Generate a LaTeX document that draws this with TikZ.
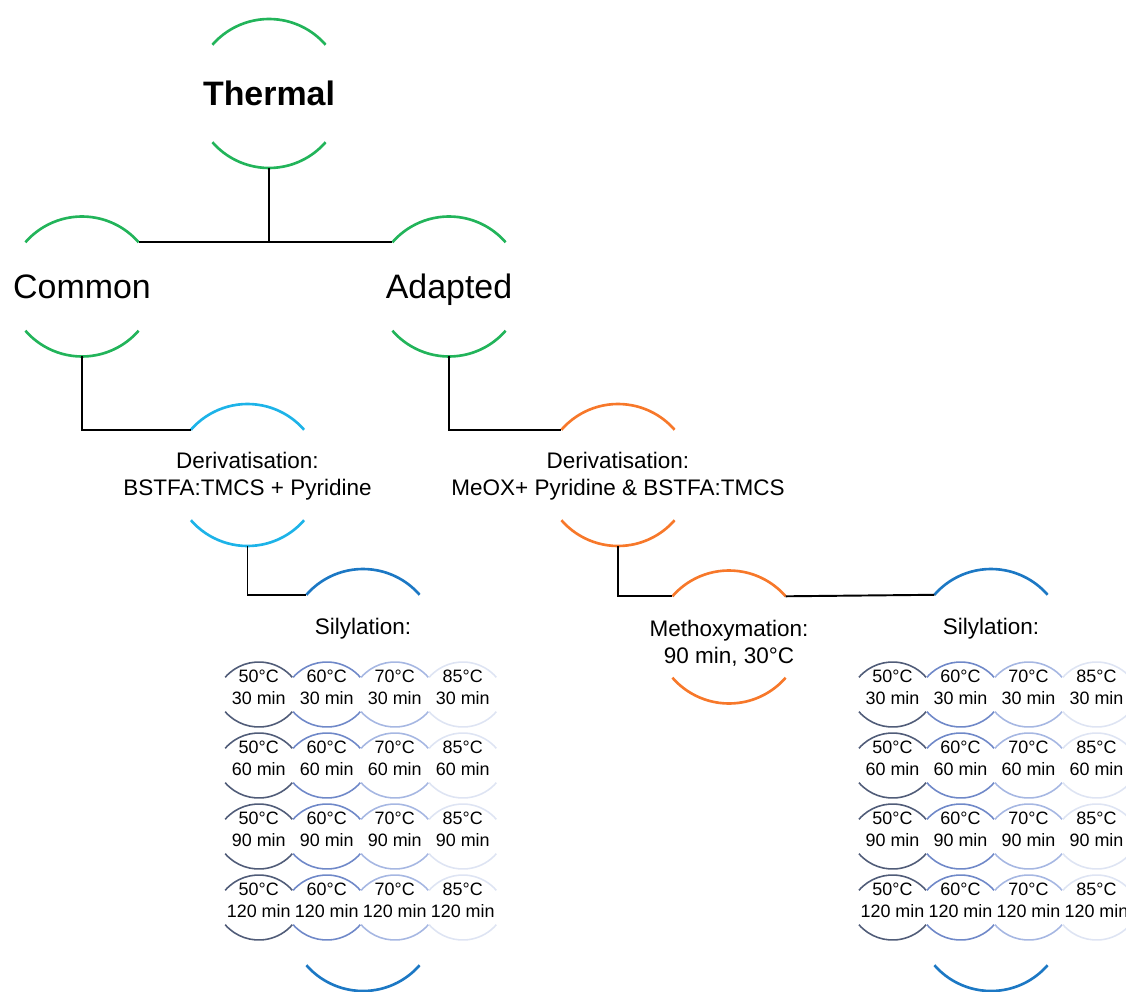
\documentclass[tikz,border=0pt]{standalone}
\usepackage{fontspec}
\setmainfont{Liberation Sans}
\usetikzlibrary{matrix,positioning}
\definecolor{leafgreen}{HTML}{22B45A}
\definecolor{skyblue}{HTML}{1DB3E8}
\definecolor{deriorange}{HTML}{F7782A}
\definecolor{silblue}{HTML}{1C78C4}
\definecolor{gridA}{HTML}{505C78}
\definecolor{gridB}{HTML}{6F88C8}
\definecolor{gridC}{HTML}{A6B7E2}
\definecolor{gridD}{HTML}{DEE4F3}
\tikzset{ring/.style={line width=1.5pt},
         thinring/.style={line width=0.9pt},
         link/.style={line width=1.1pt,black},
         topic/.style={font=\fontsize{19.3}{23}\selectfont,inner sep=0pt,
                       text height=13.8pt,text depth=0pt},
         stage/.style={font=\fontsize{12.8}{15.3}\selectfont,align=center,inner sep=0pt},
         cell/.style={font=\fontsize{10.2}{12.5}\selectfont,inner sep=0pt,
                      minimum width=1.36cm,minimum height=1.42cm,anchor=center}}
% arcs above and below a node: name, colour, radius, up, down
\newcommand\ringarcs[6][ring]{%
  \draw[#1,draw=#3] (#2.center) ++(0,#5) ++(0,-#4) ++(139:#4) coordinate (#2-tl)
    arc[start angle=139,end angle=41,radius=#4] coordinate (#2-tr);
  \draw[#1,draw=#3] (#2.center) ++(0,-#6) ++(0,#4) ++(221:#4) coordinate (#2-bl)
    arc[start angle=221,end angle=319,radius=#4] coordinate (#2-br);
  \coordinate (#2-top) at ([yshift=#5]#2.center);
  \coordinate (#2-bot) at ([yshift=-#6]#2.center);}
\newcommand\tc[2]{\begin{tabular}{@{}c@{}}#1°C\\#2 min\end{tabular}}

\begin{document}
\begin{tikzpicture}
  \useasboundingbox (0,0) rectangle (22.52,-19.84);
  \node[topic,font=\fontsize{19.3}{23}\selectfont\bfseries] (thermal) at (5.38,-1.86) {Thermal};
  \node[topic] (common) at (1.64,-5.73) {Common};
  \node[topic] (adapted) at (8.98,-5.73) {Adapted};
  \node[stage] (deriv1) at (4.95,-9.53) {Derivatisation:\\BSTFA:TMCS + Pyridine};
  \node[stage] (deriv2) at (12.36,-9.53) {Derivatisation:\\MeOX+ Pyridine \& BSTFA:TMCS};
  \node[stage] (methox) at (14.58,-12.86) {Methoxymation:\\90 min, 30°C};
  \node[stage] (sil1) at (7.26,-12.58) {Silylation:};
  \node[stage] (sil2) at (19.82,-12.58) {Silylation:};

  \matrix (gl) [matrix of nodes, nodes={cell}, row sep=0pt, column sep=0pt] at (7.215,-15.92)
    { \tc{50}{30}  & \tc{60}{30}  & \tc{70}{30}  & \tc{85}{30}  \\
      \tc{50}{60}  & \tc{60}{60}  & \tc{70}{60}  & \tc{85}{60}  \\
      \tc{50}{90}  & \tc{60}{90}  & \tc{70}{90}  & \tc{85}{90}  \\
      \tc{50}{120} & \tc{60}{120} & \tc{70}{120} & \tc{85}{120} \\ };
  \matrix (gr) [matrix of nodes, nodes={cell}, row sep=0pt, column sep=0pt] at (19.89,-15.92)
    { \tc{50}{30}  & \tc{60}{30}  & \tc{70}{30}  & \tc{85}{30}  \\
      \tc{50}{60}  & \tc{60}{60}  & \tc{70}{60}  & \tc{85}{60}  \\
      \tc{50}{90}  & \tc{60}{90}  & \tc{70}{90}  & \tc{85}{90}  \\
      \tc{50}{120} & \tc{60}{120} & \tc{70}{120} & \tc{85}{120} \\ };

  \ringarcs{thermal}{leafgreen}{1.5cm}{1.48cm}{1.50cm}
  \ringarcs{common}{leafgreen}{1.5cm}{1.40cm}{1.40cm}
  \ringarcs{adapted}{leafgreen}{1.5cm}{1.40cm}{1.40cm}
  \ringarcs{deriv1}{skyblue}{1.5cm}{1.45cm}{1.39cm}
  \ringarcs{deriv2}{deriorange}{1.5cm}{1.45cm}{1.39cm}
  \ringarcs{methox}{deriorange}{1.5cm}{1.45cm}{1.21cm}
  \ringarcs{sil1}{silblue}{1.5cm}{1.20cm}{7.24cm}
  \ringarcs{sil2}{silblue}{1.5cm}{1.20cm}{7.24cm}
  \foreach \r in {1,...,4}
    \foreach \c/\tone in {1/gridA,2/gridB,3/gridC,4/gridD} {
      \ringarcs[thinring]{gl-\r-\c}{\tone}{0.89cm}{0.55cm}{0.75cm}
      \ringarcs[thinring]{gr-\r-\c}{\tone}{0.89cm}{0.55cm}{0.75cm}
    }

  \draw[link] (common-tr) -- (adapted-tl);
  \draw[link] (thermal-bot) -- (thermal-bot |- common-tr);
  \draw[link] (common-bot) |- (deriv1-tl);
  \draw[link] (adapted-bot) |- (deriv2-tl);
  \draw[link] (deriv1-bot) |- (sil1-tl);
  \draw[link] (deriv2-bot) |- (methox-tl);
  \draw[link] (methox-tr) -- (sil2-tl);
\end{tikzpicture}
\end{document}
